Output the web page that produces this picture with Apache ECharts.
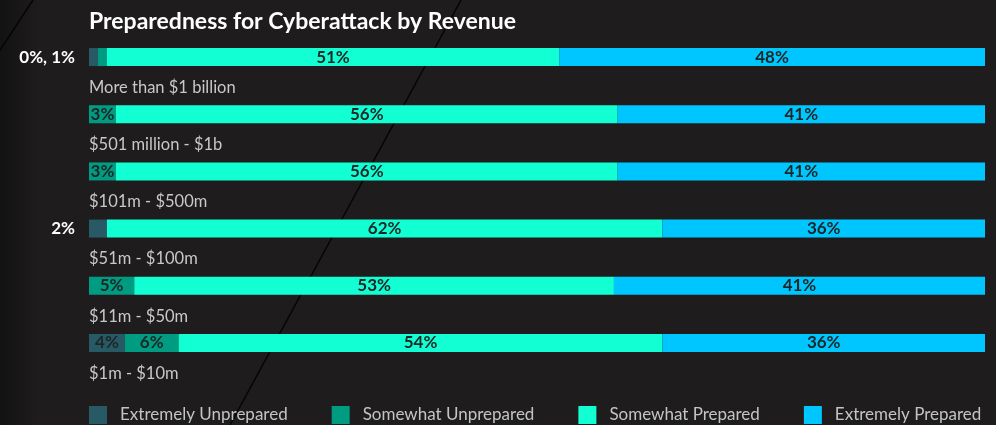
<!DOCTYPE html>
<html>
<head>
<meta charset="utf-8">
<script src="https://cdn.jsdelivr.net/npm/echarts@6/dist/echarts.min.js"></script>
<style>
  html, body { margin: 0; padding: 0; background: #1e1c1d; }
  #chart { width: 996px; height: 425px; }
</style>
</head>
<body>
<div id="chart"></div>
<script>
// revenue bands, top to bottom
const categories = [
  'More than $1 billion',
  '$501 million - $1b',
  '$101m - $500m',
  '$51m - $100m',
  '$11m - $50m',
  '$1m - $10m'
]
const seriesNames = ['Extremely Unprepared', 'Somewhat Unprepared', 'Somewhat Prepared', 'Extremely Prepared']
const extremelyUnprepared = [1, 0, 0, 2, 0, 4]
const somewhatUnprepared = [1, 3, 3, 0, 5, 6]
const somewhatPrepared = [51, 56, 56, 62, 53, 54]
const extremelyPrepared = [48, 41, 41, 36, 41, 36]
// small shares written to the left of the bar
const sideLabels = ['0%, 1%', '', '', '2%', '', '']

const colors = ['#285a66', '#009c82', '#12ffd4', '#00c6ff']
const allValues = [extremelyUnprepared, somewhatUnprepared, somewhatPrepared, extremelyPrepared]
const rowSums = categories.map((c, i) => allValues.reduce((s, arr) => s + arr[i], 0))

const insideLabel = {
  show: true,
  position: 'inside',
  color: '#1d2626',
  fontFamily: 'Lato',
  fontWeight: 'bold',
  fontSize: 17
}

function buildData(values, seriesIdx) {
  return values.map((v, i) => {
    const item = { value: v / rowSums[i] * 100, raw: v }
    if (seriesIdx === 0 && sideLabels[i]) {
      item.label = {
        show: true,
        position: 'left',
        distance: 14,
        color: '#ffffff',
        fontFamily: 'Lato',
        fontWeight: 'bold',
        fontSize: 17,
        formatter: sideLabels[i]
      }
    } else if (v >= 3) {
      item.label = Object.assign({}, insideLabel, { formatter: v + '%' })
    } else {
      item.label = { show: false }
    }
    return item
  })
}

const chart = echarts.init(document.getElementById('chart'))
chart.setOption({
  backgroundColor: '#1e1c1d',
  animation: false,
  graphic: [
    {
      type: 'rect',
      z: 0,
      shape: { x: 0, y: 0, width: 40, height: 425 },
      style: {
        fill: new echarts.graphic.LinearGradient(0, 0, 1, 0, [
          { offset: 0, color: 'rgba(0,0,0,0.35)' },
          { offset: 1, color: 'rgba(0,0,0,0)' }
        ])
      }
    },
    {
      type: 'line',
      z: 0,
      shape: { x1: 461, y1: 0, x2: 230, y2: 425 },
      style: { stroke: '#050505', lineWidth: 1.5 }
    },
    {
      type: 'line',
      z: 0,
      shape: { x1: 33, y1: 0, x2: 0, y2: 50 },
      style: { stroke: '#050505', lineWidth: 1.5 }
    }
  ],
  title: {
    text: 'Preparedness for Cyberattack by Revenue',
    left: 84,
    top: 5,
    textStyle: {
      color: '#ffffff',
      fontFamily: 'Lato',
      fontWeight: 'bold',
      fontSize: 23
    }
  },
  legend: {
    data: seriesNames,
    left: 89,
    top: 406,
    padding: 0,
    icon: 'rect',
    itemWidth: 18,
    itemHeight: 18,
    itemGap: 44,
    textStyle: {
      color: '#c4c4c4',
      fontFamily: 'Lato',
      fontSize: 17,
      padding: [0, 0, 0, 8]
    }
  },
  grid: {
    left: 89,
    right: 11,
    top: 28.5,
    bottom: 53.5
  },
  xAxis: {
    type: 'value',
    min: 0,
    max: 100,
    show: false
  },
  yAxis: {
    type: 'category',
    inverse: true,
    data: categories,
    axisLine: { show: false },
    axisTick: { show: false },
    splitLine: { show: false },
    axisLabel: {
      align: 'left',
      verticalAlign: 'top',
      margin: 0,
      padding: [22, 0, 0, 0],
      lineHeight: 17,
      color: '#c8c8c8',
      fontFamily: 'Lato',
      fontSize: 16.5
    }
  },
  series: allValues.map((values, idx) => ({
    name: seriesNames[idx],
    type: 'bar',
    stack: 'total',
    barWidth: 18,
    itemStyle: { color: colors[idx] },
    data: buildData(values, idx)
  }))
})
</script>
</body>
</html>
